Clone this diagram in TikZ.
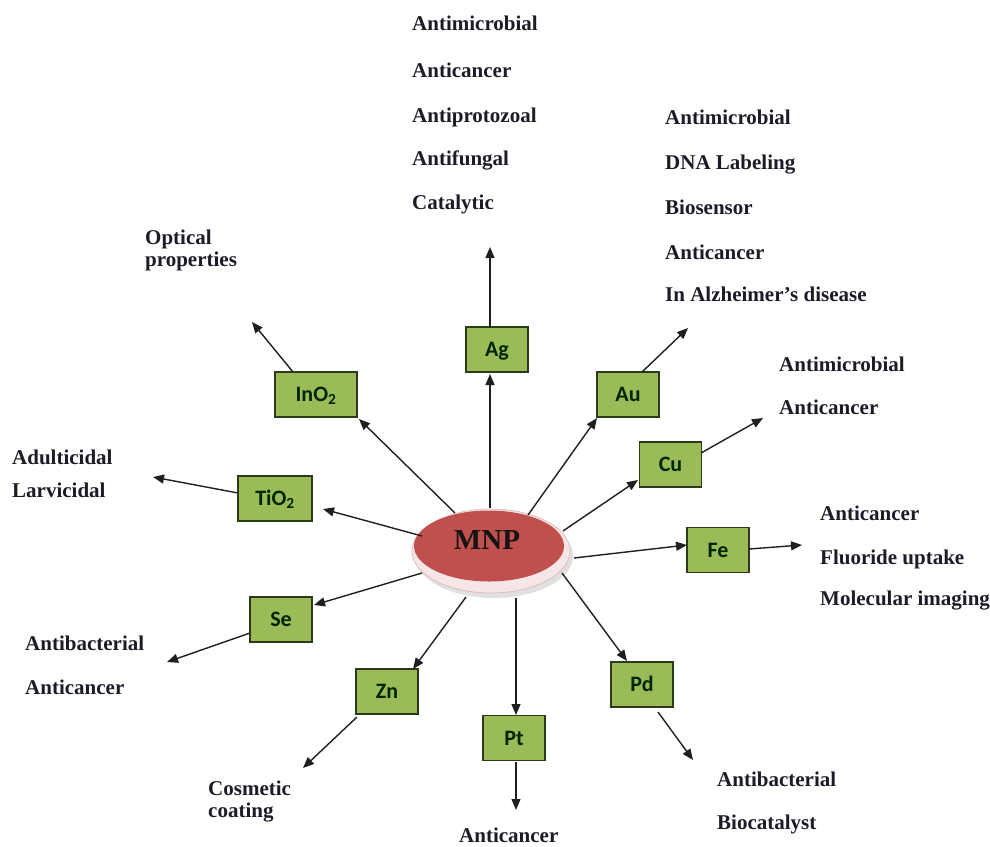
\documentclass[tikz,border=0pt]{standalone}
\usepackage{fontspec}
\setmainfont{Liberation Serif}
\newfontfamily\boxfont{Carlito}
\usetikzlibrary{arrows.meta,shapes.geometric}
\definecolor{boxgreen}{HTML}{9BBB59}
\definecolor{boxline}{HTML}{2B3A18}
\definecolor{mnpred}{HTML}{C0504D}
\definecolor{rimcol}{HTML}{F7E6E6}
\definecolor{rimline}{HTML}{DDBDBD}
\definecolor{txt}{HTML}{1C1C28}
\tikzset{
  lab/.style={anchor=base west, inner sep=0pt, font=\fontsize{21}{25}\selectfont\bfseries, text=txt},
  mbox/.style={draw=boxline, line width=1.6pt, fill=boxgreen, minimum width=62pt, minimum height=45pt,
    inner sep=0pt, text height=14pt, text depth=0pt, font=\boxfont\bfseries\fontsize{22}{26}\selectfont, text=black!85!green},
  arr/.style={-{Triangle[length=11pt,width=9pt]}, line width=1.4pt, draw=black!88},
}
\begin{document}
\begin{tikzpicture}[x=1pt,y=-1pt]
\useasboundingbox (0,0) rectangle (990,846);
% central ellipse
\fill[black!12] (494,556) ellipse [x radius=79, y radius=42];
\filldraw[fill=rimcol, draw=rimline, line width=0.8pt] (491,551) ellipse [x radius=79, y radius=42];
\fill[mnpred] (489,546) ellipse [x radius=75, y radius=35.5];
\node[inner sep=0pt, font=\fontsize{29}{32}\selectfont\bfseries, text=black!92] (mnp) at (487,540) {MNP};

% boxes
\node[mbox] (ag) at (497,349.5) {Ag};
\node[mbox] (au) at (628,394.5) {Au};
\node[mbox] (cu) at (670.5,464.5) {Cu};
\node[mbox] (fe) at (718,550) {Fe};
\node[mbox] (pd) at (642,684.5) {Pd};
\node[mbox] (pt) at (514,738) {Pt};
\node[mbox] (zn) at (387,691.5) {Zn};
\node[mbox] (se) at (281,619.5) {Se};
\node[mbox, minimum width=74pt] (tio) at (275,498.5) {TiO\textsubscript{2}};
\node[mbox, minimum width=82pt] (ino) at (316,394.5) {InO\textsubscript{2}};

% connector end points
\coordinate (m-ag) at (490,508);   \coordinate (ag-in) at (490,374);
\coordinate (ag-o) at (490,327);   \coordinate (ag-t) at (490,247);
\coordinate (m-au) at (528,515);   \coordinate (au-in) at (597,418);
\coordinate (au-o) at (642,372);   \coordinate (au-t) at (688,328);
\coordinate (m-cu) at (563,531);   \coordinate (cu-in) at (638,480);
\coordinate (cu-o) at (701,453);   \coordinate (cu-t) at (763,418);
\coordinate (m-fe) at (574,558);   \coordinate (fe-in) at (687,545);
\coordinate (fe-o) at (749,549);   \coordinate (fe-t) at (802,545);
\coordinate (m-pd) at (562,573);   \coordinate (pd-in) at (627,661);
\coordinate (pd-o) at (658,712);   \coordinate (pd-t) at (693,760);
\coordinate (m-pt) at (516,598);   \coordinate (pt-in) at (516,715);
\coordinate (pt-o) at (516,762);   \coordinate (pt-t) at (516,810);
\coordinate (m-zn) at (466,597);   \coordinate (zn-in) at (413,669);
\coordinate (zn-o) at (357,717);   \coordinate (zn-t) at (303,768);
\coordinate (m-se) at (422,573);   \coordinate (se-in) at (314,605);
\coordinate (se-o) at (250,633);   \coordinate (se-t) at (167,662);
\coordinate (m-ti) at (422,536);   \coordinate (ti-in) at (323,509);
\coordinate (ti-o) at (238,493);   \coordinate (ti-t) at (153,477);
\coordinate (m-in) at (455,513);   \coordinate (in-in) at (359,419);
\coordinate (in-o) at (293,372);   \coordinate (in-t) at (252,322);

\foreach \a/\b in {m-ag/ag-in, ag-o/ag-t, m-au/au-in, au-o/au-t, m-cu/cu-in, cu-o/cu-t,
  m-fe/fe-in, fe-o/fe-t, m-pd/pd-in, pd-o/pd-t, m-pt/pt-in, pt-o/pt-t, m-zn/zn-in, zn-o/zn-t,
  m-se/se-in, se-o/se-t, m-ti/ti-in, ti-o/ti-t, m-in/in-in, in-o/in-t}
  \draw[arr] (\a) -- (\b);

% labels: Ag
\node[lab] (ag1) at (412,30) {Antimicrobial};
\node[lab] (ag2) at (412,77) {Anticancer};
\node[lab] (ag3) at (412,122) {Antiprotozoal};
\node[lab] (ag4) at (412,165) {Antifungal};
\node[lab] (ag5) at (412,209) {Catalytic};
% Au
\node[lab] (au1) at (665,124) {Antimicrobial};
\node[lab] (au2) at (665,169) {DNA Labeling};
\node[lab] (au3) at (665,214) {Biosensor};
\node[lab] (au4) at (665,259) {Anticancer};
\node[lab] (au5) at (665,301) {In Alzheimer’s disease};
% Cu
\node[lab] (cu1) at (779,371) {Antimicrobial};
\node[lab] (cu2) at (779,414) {Anticancer};
% Fe
\node[lab] (fe1) at (820,520) {Anticancer};
\node[lab] (fe2) at (820,564) {Fluoride uptake};
\node[lab] (fe3) at (820,605) {Molecular imaging};
% Pd
\node[lab] (pd1) at (717,786) {Antibacterial};
\node[lab] (pd2) at (717,829) {Biocatalyst};
% Pt
\node[lab] (pt1) at (459,842) {Anticancer};
% Zn
\node[lab] (zn1) at (208,795) {Cosmetic};
\node[lab] (zn2) at (208,817) {coating};
% Se
\node[lab] (se1) at (25,650) {Antibacterial};
\node[lab] (se2) at (25,694) {Anticancer};
% TiO2
\node[lab] (ti1) at (12,464) {Adulticidal};
\node[lab] (ti2) at (12,497) {Larvicidal};
% InO2
\node[lab] (in1) at (145,244) {Optical};
\node[lab] (in2) at (145,266) {properties};
\end{tikzpicture}
\end{document}
